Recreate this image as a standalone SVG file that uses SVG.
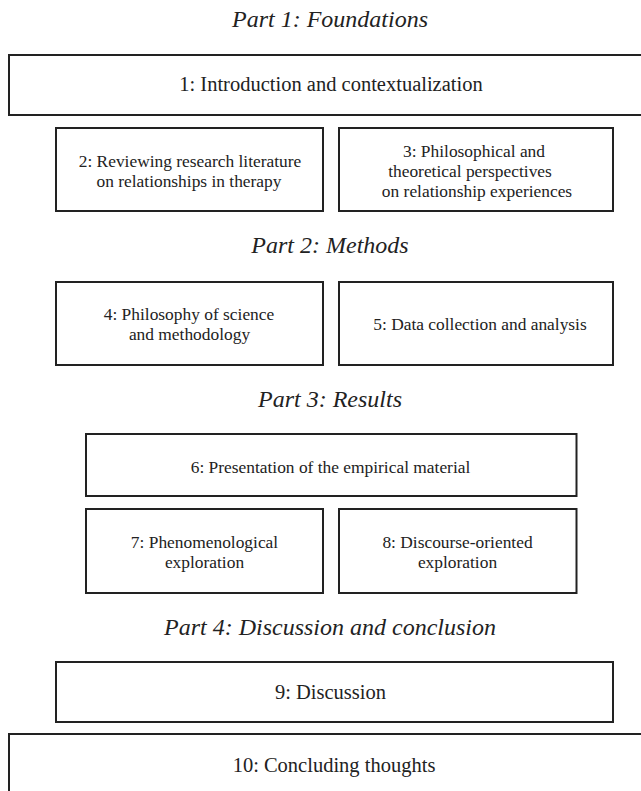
<svg xmlns="http://www.w3.org/2000/svg" width="641" height="791" viewBox="0 0 641 791">
<style>
.box{fill:#fff;stroke:#222;stroke-width:2}
.t{font-family:"Liberation Serif",serif;font-size:17.4px;fill:#222;text-anchor:middle}
.big{font-size:20.5px}
.h{font-family:"Liberation Serif",serif;font-style:italic;font-size:24px;fill:#222;text-anchor:middle}
</style>
<rect width="641" height="791" fill="#fff"/>
<g id="headings">
<text class="h" x="330" y="27">Part 1: Foundations</text>
<text class="h" x="330" y="253">Part 2: Methods</text>
<text class="h" x="330" y="407">Part 3: Results</text>
<text class="h" x="330" y="635">Part 4: Discussion and conclusion</text>
</g>
<g id="n1"><rect class="box" x="9" y="55" width="645" height="60"/><text class="t big" x="331" y="91">1: Introduction and contextualization</text></g>
<g id="n2"><rect class="box" x="56" y="128" width="267" height="83"/><text class="t" x="190" y="167">2: Reviewing research literature</text><text class="t" x="189" y="187">on relationships in therapy</text></g>
<g id="n3"><rect class="box" x="339" y="128" width="274" height="83"/><text class="t" x="474" y="157">3: Philosophical and</text><text class="t" x="470" y="177">theoretical perspectives</text><text class="t" x="477" y="197">on relationship experiences</text></g>
<g id="n4"><rect class="box" x="56" y="282" width="267" height="83"/><text class="t" x="189" y="320">4: Philosophy of science</text><text class="t" x="189.5" y="340">and methodology</text></g>
<g id="n5"><rect class="box" x="339" y="282" width="274" height="83"/><text class="t" x="480" y="330">5: Data collection and analysis</text></g>
<g id="n6"><rect class="box" x="86" y="434" width="490.5" height="62"/><text class="t" x="330.5" y="473">6: Presentation of the empirical material</text></g>
<g id="n7"><rect class="box" x="86" y="509" width="237" height="84"/><text class="t" x="204.5" y="548">7: Phenomenological</text><text class="t" x="204.5" y="568">exploration</text></g>
<g id="n8"><rect class="box" x="339" y="509" width="237.5" height="84"/><text class="t" x="457.5" y="548">8: Discourse-oriented</text><text class="t" x="457.5" y="568">exploration</text></g>
<g id="n9"><rect class="box" x="56" y="662" width="557" height="60"/><text class="t big" x="330.5" y="699">9: Discussion</text></g>
<g id="n10"><rect class="box" x="9" y="734" width="645" height="70"/><text class="t big" x="334" y="772">10: Concluding thoughts</text></g>
<g id="connectors"></g>
</svg>
